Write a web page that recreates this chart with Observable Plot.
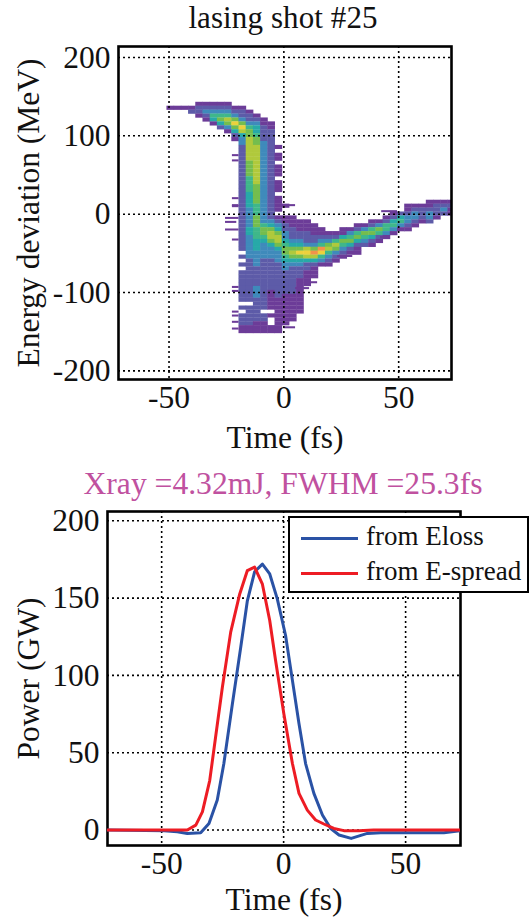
<!DOCTYPE html>
<html>
<head>
<meta charset="utf-8">
<script src="https://cdn.jsdelivr.net/npm/d3@7"></script>
<script src="https://cdn.jsdelivr.net/npm/@observablehq/plot@0.6"></script>
<style>
html,body{margin:0;padding:0;background:#fff;}
#page{position:relative;width:532px;height:918px;overflow:hidden;font-family:"Liberation Serif",serif;color:#111;}
#top,#bottom{position:absolute;left:0;}
#top{top:0;}
#bottom{top:460px;}
.title{position:absolute;left:0;text-align:center;white-space:nowrap;}
#t1{top:2px;left:283px;transform:translateX(-50%);font-size:31px;line-height:32px;letter-spacing:.1px;}
#t2{top:466px;left:283px;transform:translateX(-50%);font-size:31.6px;line-height:36px;color:#c0519f;}
#legend{position:absolute;left:288px;top:516px;width:237px;height:73px;border:2.5px solid #000;background:#fff;font-size:27px;}
.row{position:absolute;left:11px;height:34px;line-height:34px;white-space:nowrap;}
.row i{display:inline-block;width:57px;height:3px;vertical-align:middle;margin-right:8px;}
svg{display:block;}
</style>
</head>
<body>
<div id="page">
  <div id="top"></div>
  <div id="bottom"></div>
  <div class="title" id="t1">lasing shot #25</div>
  <div class="title" id="t2">Xray =4.32mJ, FWHM =25.3fs</div>
  <div id="legend">
    <div class="row" style="top:1px"><i style="background:#2a52a5"></i>from Eloss</div>
    <div class="row" style="top:36px"><i style="background:#ed1c24"></i>from E-spread</div>
  </div>
</div>
<script>
// Energy-time map: each column holds [first energy row, intensity levels downward]. "." = empty bin.
const columnStart = -50.9;      // fs, left edge of first column
const columnWidth = 3.137;      // fs
const rowTop = 142.5;           // MeV, top of first row
const rowHeight = 5;            // MeV
const firstRows = [1,1,1,1,0,0,0,0,0,1,1,2,3,4,5,6,26,29,30,30,31,32,33,33,32,32,31,31,30,30,29,28,28,26,26,26,25,25,25,25];
const levelColumns = [
  "1","1","1","12","1221","12321","123541","1235642","12357631",
  "123686421",
  "122368743"+"3222222222"+"2222222222"+"22222222"+".2.2."+"22222222"+".2."+"22211",
  "12235667"+"7777766665"+"5554444333"+"3344333333"+"2222222222"+"2.2222211",
  "1234456"+"6777777777"+"7666665556"+"6655544433"+"3322222333"+"222222111",
  "112222"+"3333333333"+"3333333333"+"3566543333"+"2222222222"+"222.22111",
  "11222"+"2222222222"+"2222222222"+"3467764333"+"2222222211"+"111.1..11",
  "....."+"1.11.111."+"111.1111.1"+"2346776433"+"3222222222"+"111111111",
  "1.."+"1122334566543322222211111111",
  "111222346764322"+"222221111111",
  "111223468643222"+"111111111",
  "11122237874221111",
  "11122369742111",
  "1123598531",
  "123675321",
  "12576321",
  "11465321",
  "1356421",
  "12564211",
  "136532",
  "1256421",
  "136521",
  "125531",
  "124531",
  "24531",
  "1123321",
  "123321",
  "12221",
  "112332",
  "12221",
  "1232",
  "1211"
];
const levelColors = ["#6c3c98","#5d5ba8","#3f8abb","#27a9a8","#3fb78a","#74bd4e","#b0c93c","#ecd13c","#f2924a"];

// Thin one-sample streaks at the edges of the map
const streakEnergy = [74.7,68,19.8,10.9,9.6,-5.4,-10.5,-20.2,-33,-93.5,-98.6,-125,-130,-138,-146.6,10.9,-145,-87.5,-95,-54,-59,-30,3.2];
const streakStart  = [-22.4,-22.4,-22.4,-22.4,-22.4,-25.4,-25.4,-25.4,-22.4,-22.4,-22.4,-22.4,-22.4,-22.4,-22.4,2,0,11.6,5.1,23.4,21.2,42.1,42.6];
const streakEnd    = [-19.5,-19.5,-19.5,-19.5,-19.5,-19.5,-20.5,-19.5,-19.5,-19.5,-19.5,-19.5,-19.5,-19.5,-19.5,5.1,5.1,14.7,11.2,30,23.4,45.6,49.5];
const streakHeight = 2.6;

const cells = levelColumns.flatMap((levels, c) =>
  Array.from(levels).map((v, i) => ({
    t1: columnStart + c * columnWidth,
    t2: columnStart + (c + 1) * columnWidth + 0.2,
    e1: rowTop - (firstRows[c] + i) * rowHeight + 0.3,
    e2: rowTop - (firstRows[c] + i + 1) * rowHeight,
    level: v
  })).filter(d => d.level !== ".")
);
const streaks = streakEnergy.map((e, i) => ({
  t1: streakStart[i], t2: streakEnd[i], e1: e + streakHeight / 2, e2: e - streakHeight / 2, level: "1"
}));

// Power traces
const elossTime  = [-72,-49,-43.6,-39.5,-34,-30.6,-27.2,-24.5,-21,-17.6,-14.9,-11.9,-8.7,-5.7,-2.6,0.8,3.6,6.3,9,12.4,15.9,19.3,22.7,27.7,34.3,39.8,65.7,73];
const elossPower = [0,-0.4,-1.1,-2.2,-1.7,4.3,19.4,43,81.7,118,148,167,172,165.6,149.5,125.8,96.8,68.8,43,23.7,9.7,1,-3.2,-5.4,-2.2,-1.7,-1.7,-0.4];
const spreadTime  = [-72,-39.5,-36,-33.3,-30.3,-27.9,-25.1,-21.7,-18,-14.9,-11.9,-8.7,-5.7,-3.3,0.1,3.6,6.3,9.7,13.1,16.5,20.6,24.7,30.8,36.9,73];
const spreadPower = [0,0,3.2,11.8,32,60,92.5,128,152.7,167.7,170,159,135.5,109.7,75,43,23.7,12.9,6.5,3.9,1,-0.4,-0.4,0,0];

const timeTicks = [-50,0,50];
const energyTicks = [-200,-100,0,100,200];
const powerTicks = [0,50,100,150,200];

const FS = 31.5;
const grid = {stroke:"#000",strokeOpacity:1,strokeDasharray:"2,3",strokeWidth:1.6};
function axes(xt,yt,ylabel,ly,lx){
  return [
    Plot.gridX(xt,grid),
    Plot.gridY(yt,grid),
    Plot.axisX(xt,{tickSize:0,tickPadding:6,label:"Time (fs)",labelAnchor:"center",labelArrow:"none",labelOffset:lx,fill:"#111",tickFormat:d=>d<0?"-"+(-d):String(d)}),
    Plot.axisY(yt,{tickSize:0,tickPadding:8,label:ylabel,labelAnchor:"center",labelArrow:"none",labelOffset:ly,fill:"#111",tickFormat:d=>d<0?"-"+(-d):String(d)}),
    Plot.frame({stroke:"#000",strokeWidth:2.6})
  ];
}
const common = {width:532,style:{fontFamily:"Liberation Serif, serif",fontSize:FS+"px",background:"transparent",overflow:"visible"}};

document.getElementById("top").append(Plot.plot({
  ...common,height:450,marginLeft:118,marginRight:81,marginTop:46,marginBottom:71,
  x:{domain:[-72,73]},
  y:{domain:[-211,214]},
  color:{type:"ordinal",domain:["1","2","3","4","5","6","7","8","9"],range:levelColors},
  marks:[
    Plot.rect(cells,{x1:"t1",x2:"t2",y1:"e1",y2:"e2",fill:"level",clip:true,imageFilter:"blur(0.7px)"}),
    Plot.rect(streaks,{x1:"t1",x2:"t2",y1:"e1",y2:"e2",fill:"level",clip:true,imageFilter:"blur(0.4px)"}),
    ...axes(timeTicks,energyTicks,"Energy deviation (MeV)",102,68)
  ]
}));

const elossLine = elossTime.map((t,i)=>({t,p:elossPower[i]}));
const spreadLine = spreadTime.map((t,i)=>({t,p:spreadPower[i]}));
document.getElementById("bottom").append(Plot.plot({
  ...common,height:458,marginLeft:107,marginRight:72,marginTop:51,marginBottom:73,
  x:{domain:[-72.2,72.5]},
  y:{domain:[-10,206]},
  marks:[
    ...axes(timeTicks,powerTicks,"Power (GW)",91,64),
    Plot.line(elossLine,{x:"t",y:"p",stroke:"#2a52a5",strokeWidth:3,clip:true}),
    Plot.line(spreadLine,{x:"t",y:"p",stroke:"#ed1c24",strokeWidth:3,clip:true})
  ]
}));
</script>
</body>
</html>
